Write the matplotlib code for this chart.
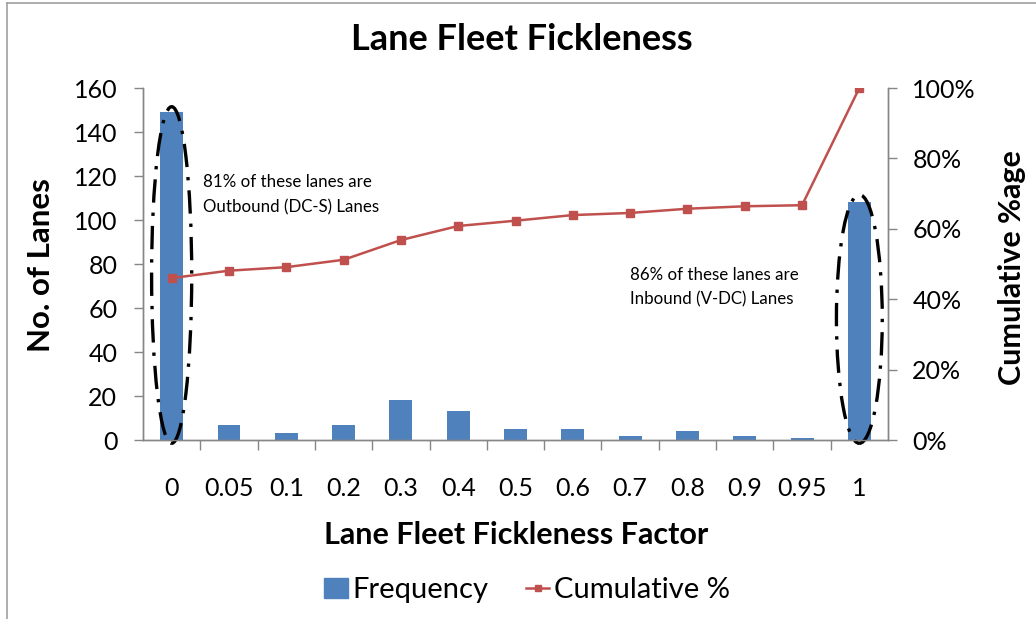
import numpy as np
import matplotlib
matplotlib.use("Agg")
import matplotlib.pyplot as plt
from matplotlib.patches import Ellipse, Rectangle
from matplotlib.ticker import FixedLocator, PercentFormatter

categories = ["0", "0.05", "0.1", "0.2", "0.3", "0.4", "0.5", "0.6", "0.7", "0.8", "0.9", "0.95", "1"]
frequency = [149, 7, 3, 7, 18, 13, 5, 5, 2, 4, 2, 1, 108]
cumulative = [46.0, 48.1, 49.1, 51.2, 56.8, 60.8, 62.3, 63.9, 64.5, 65.7, 66.4, 66.7, 100.0]

BLUE = "#4F81BD"
RED = "#C0504D"
GRAY = "#868686"
FONT = "Lato"

plt.rcParams["font.family"] = [FONT, "DejaVu Sans"]

fig = plt.figure(figsize=(10.36, 6.19), dpi=100)
W, H = 1036, 619
ax = fig.add_axes([143 / W, 1 - 440 / H, (888 - 143) / W, (440 - 88) / H])
ax2 = ax.twinx()

x = np.arange(len(categories))
ax.bar(x, frequency, width=0.4, color=BLUE, zorder=2)
ax.set_xlim(-0.5, len(categories) - 0.5)
ax.set_ylim(0, 160)
ax.set_yticks(range(0, 161, 20))

ax2.plot(x, cumulative, color=RED, lw=1.8, marker="s", ms=6, zorder=3)
ax2.set_ylim(0, 100)
ax2.set_yticks(range(0, 101, 20))
ax2.yaxis.set_major_formatter(PercentFormatter(decimals=0))

# category labels sit between the boundary ticks
ax.set_xticks(x)
ax.set_xticklabels(categories)
ax.xaxis.set_minor_locator(FixedLocator(np.arange(0.5, len(categories) - 0.5, 1)))
ax.tick_params(axis="x", which="major", length=0, pad=27, labelsize=18)
ax.tick_params(axis="x", which="minor", length=7, color=GRAY, width=1)
ax.tick_params(axis="y", length=6.5, color=GRAY, width=1, pad=12, labelsize=18)
ax2.tick_params(axis="y", length=6.5, color=GRAY, width=1, pad=11, labelsize=18)

for a in (ax, ax2):
    a.spines["top"].set_visible(False)
    for side in ("left", "right", "bottom"):
        a.spines[side].set_color(GRAY)
        a.spines[side].set_linewidth(1)

# ellipses marking the two extremes
dash = (0, (7, 3, 1, 3))
ax.add_patch(Ellipse((0, 75), 0.7, 153, fill=False, ec="black", lw=2.4,
                     ls=dash, clip_on=False, zorder=4))
ax.add_patch(Ellipse((12, 55), 0.8, 113, fill=False, ec="black", lw=2.4,
                     ls=dash, clip_on=False, zorder=4))

ax.text(0.55, 111.5, "81% of these lanes are\nOutbound (DC-S) Lanes", fontsize=12.2,
        ha="left", va="center", linespacing=1.65)
ax.text(8.0, 69.5, "86% of these lanes are\nInbound (V-DC) Lanes", fontsize=12.2,
        ha="left", va="center", linespacing=1.65)

fig.text(522 / W, 1 - 40 / H, "Lane Fleet Fickleness", fontsize=26,
         fontweight="bold", ha="center", va="center")
fig.text(516 / W, 1 - 535 / H, "Lane Fleet Fickleness Factor", fontsize=22,
         fontweight="bold", ha="center", va="center")
fig.text(41 / W, 1 - 265 / H, "No. of Lanes", fontsize=22.5, fontweight="bold",
         rotation=90, ha="center", va="center")
fig.text(1012 / W, 1 - 268 / H, "Cumulative %age", fontsize=22, fontweight="bold",
         rotation=90, ha="center", va="center")

handles = [Rectangle((0, 0), 1, 1, color=BLUE),
           plt.Line2D([], [], color=RED, lw=1.8, marker="s", ms=5)]
fig.legend(handles, ["Frequency", "Cumulative %"], loc="center",
           bbox_to_anchor=(527 / W, 1 - 590 / H), ncol=2, frameon=False,
           fontsize=21, handlelength=0.8, handletextpad=0.15, columnspacing=1.3)

# chart frame
fig.add_artist(plt.Line2D([7 / W, 7 / W], [0, 1 - 3 / H], color="#A0A0A0", lw=1.2))
fig.add_artist(plt.Line2D([7 / W, 1], [1 - 3 / H, 1 - 3 / H], color="#A0A0A0", lw=1.2))

fig.savefig("out.png", dpi=100)
